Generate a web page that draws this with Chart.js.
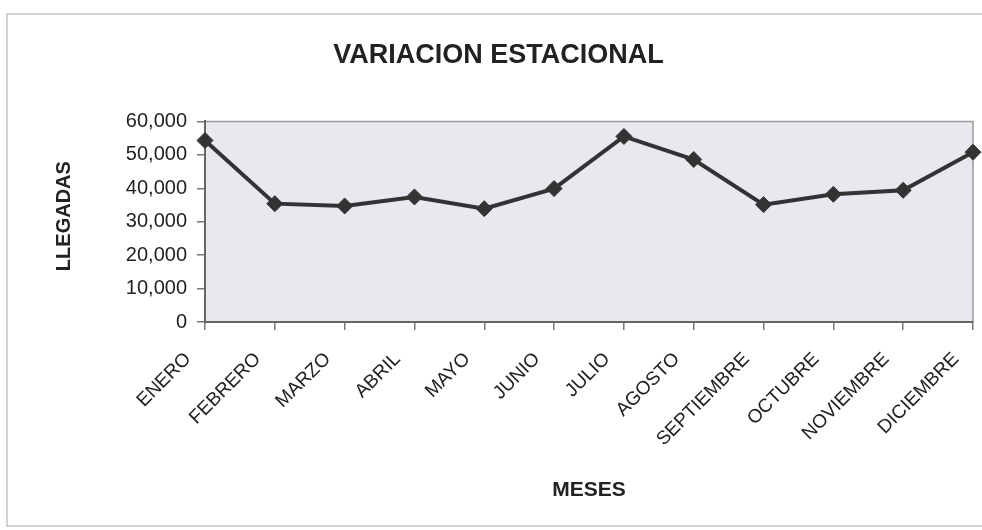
<!DOCTYPE html>
<html>
<head>
<meta charset="utf-8">
<script src="https://cdn.jsdelivr.net/npm/chart.js@4/dist/chart.umd.min.js"></script>
<style>
  html, body { margin: 0; padding: 0; background: #fff; }
  #wrap { width: 982px; height: 530px; }
</style>
</head>
<body>
<div id="wrap"><canvas id="myChart"></canvas></div>
<script>
  const meses = [
    'ENERO', 'FEBRERO', 'MARZO', 'ABRIL', 'MAYO', 'JUNIO',
    'JULIO', 'AGOSTO', 'SEPTIEMBRE', 'OCTUBRE', 'NOVIEMBRE', 'DICIEMBRE'
  ];
  const llegadas = [54300, 35400, 34700, 37400, 33900, 39900, 55500, 48600, 35100, 38200, 39400, 50800];
  const yMin = 0;
  const yMax = 60000;
  const yStep = 10000;

  // frame around the whole picture + grey plot background
  const frame = {
    id: 'frame',
    beforeDraw(chart) {
      const ctx = chart.ctx;
      const a = chart.chartArea;
      ctx.save();
      ctx.strokeStyle = '#c4c4c4';
      ctx.lineWidth = 1.5;
      ctx.strokeRect(7, 14, 990, 512);
      ctx.fillStyle = '#e8e8ef';
      ctx.fillRect(a.left, a.top, a.right - a.left, a.bottom - a.top);
      ctx.strokeStyle = '#9a9a9a';
      ctx.lineWidth = 1.5;
      ctx.beginPath();
      ctx.moveTo(a.left, a.top);
      ctx.lineTo(a.right, a.top);
      ctx.lineTo(a.right, a.bottom);
      ctx.stroke();
      ctx.restore();
    }
  };

  const data = {
    labels: meses,
    datasets: [{
      label: 'LLEGADAS',
      data: llegadas,
      borderColor: '#333333',
      backgroundColor: '#333333',
      borderWidth: 4,
      pointStyle: 'rectRot',
      pointRadius: 8,
      pointBorderWidth: 1,
      tension: 0,
      clip: false
    }]
  };

  const config = {
    type: 'line',
    data: data,
    options: {
      responsive: false,
      animation: false,
      layout: { padding: { left: 24, right: 9, top: 0, bottom: 23 } },
      plugins: {
        legend: { display: false },
        tooltip: { enabled: false },
        title: {
          display: true,
          text: 'VARIACION ESTACIONAL',
          color: '#222',
          font: { family: 'Arial, "Liberation Sans"', size: 27, weight: 'bold' },
          padding: { top: 39, bottom: 50 }
        }
      },
      scales: {
        x: {
          offset: false,
          grid: { display: true, drawOnChartArea: false, tickLength: 8, color: '#777', lineWidth: 1.5 },
          border: { color: '#666', width: 2 },
          ticks: {
            minRotation: 45, maxRotation: 45, autoSkip: false,
            padding: 18, labelOffset: -17,
            color: '#222',
            font: { family: 'Arial, "Liberation Sans"', size: 19 }
          },
          title: {
            display: true, text: 'MESES', color: '#222',
            font: { family: 'Arial, "Liberation Sans"', size: 21, weight: 'bold' },
            padding: { top: 4, bottom: 4 }
          },
          afterFit: s => {
            s.height = 185;
            s.paddingRight = 0;
          }
        },
        y: {
          min: yMin, max: yMax,
          grid: { display: true, drawOnChartArea: false, tickLength: 8, color: '#777', lineWidth: 1.5 },
          border: { color: '#666', width: 2 },
          ticks: {
            stepSize: yStep, padding: 10, color: '#222',
            font: { family: 'Arial, "Liberation Sans"', size: 20 },
            callback: v => v.toLocaleString('en-US')
          },
          title: {
            display: true, text: '  LLEGADAS', color: '#222',
            font: { family: 'Arial, "Liberation Sans"', size: 20, weight: 'bold' },
            padding: { top: 28, bottom: 4 }
          },
          afterFit: s => { s.width = 181; }
        }
      }
    },
    plugins: [frame]
  };

  const canvas = document.getElementById('myChart');
  canvas.width = 982;
  canvas.height = 530;
  const myChart = new Chart(canvas, config);
</script>
</body>
</html>
